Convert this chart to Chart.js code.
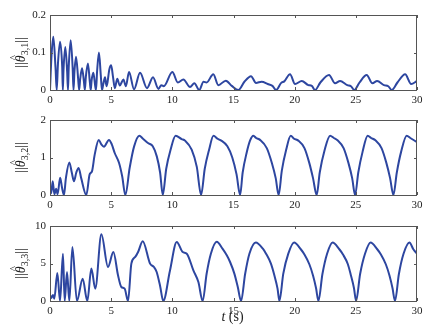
<!DOCTYPE html>
<html>
<head>
<meta charset="utf-8">
<script src="https://cdn.jsdelivr.net/npm/chart.js@4"></script>
<style>
  body { margin: 0; background: #fff; width: 441px; height: 334px; position: relative; overflow: hidden; }
  canvas { position: absolute; left: 0; }
</style>
</head>
<body>
<canvas id="c1" style="top:0" width="441" height="105"></canvas>
<canvas id="c2" style="top:105px" width="441" height="105"></canvas>
<canvas id="c3" style="top:210px" width="441" height="124"></canvas>
<script>
// ||theta_{3,1}||
const t1 = [0, 0.12, 0.27, 0.45, 0.55, 0.65, 0.82, 1.0, 1.05, 1.1, 1.25, 1.4, 1.47, 1.53, 1.69, 1.85, 1.92, 2.0, 2.13, 2.3,
  2.38, 2.47, 2.62, 2.78, 2.85, 2.93, 3.1, 3.26, 3.33, 3.4, 3.54, 3.7, 3.76, 3.85, 4.0, 4.15, 4.25, 4.35, 4.5, 4.62,
  4.7, 4.85, 5.0, 5.15, 5.3, 5.5, 5.7, 6.0, 6.2, 6.46, 6.87, 7.36, 7.93, 8.42, 8.86, 9.1, 9.3, 10.0, 10.45, 10.9,
  11.45, 11.8, 12.2, 12.55, 12.8, 13.35, 13.76, 14.37, 14.86, 15.4, 15.89, 16.43, 16.84, 17.3, 17.8, 18.18, 18.48, 18.9, 19.15, 19.62,
  20.03, 20.58, 21.12, 21.4, 21.67, 22.1, 22.81, 23.3, 23.71, 24.3, 24.6, 24.88, 25.3, 25.89, 26.35, 26.74, 27.3, 27.65, 27.94, 28.4,
  29.03, 29.52, 30]
const v1 = [0, 0.09, 0.142, 0.06, 0, 0.07, 0.129, 0.06, 0, 0.05, 0.115, 0.05, 0, 0.06, 0.133, 0.06, 0, 0.05, 0.089, 0.03,
  0, 0.03, 0.058, 0.02, 0, 0.035, 0.071, 0.02, 0, 0.025, 0.046, 0.01, 0, 0.05, 0.1, 0.04, 0, 0.015, 0.034, 0.01,
  0.02, 0.055, 0.066, 0.035, 0.005, 0.03, 0.012, 0.028, 0.01, 0.048, 0.002, 0.046, 0.005, 0.034, 0.003, 0.013, 0.01, 0.048, 0.02, 0.028,
  0.008, 0.018, 0, 0.022, 0.02, 0.042, 0.013, 0.025, 0.011, 0, 0.022, 0.037, 0.019, 0.022, 0.016, 0.011, 0, 0.019, 0.023, 0.042,
  0.016, 0.024, 0.013, 0.011, 0, 0.02, 0.04, 0.018, 0.024, 0.013, 0.01, 0, 0.02, 0.04, 0.018, 0.024, 0.013, 0.01, 0, 0.02,
  0.042, 0.016, 0.024]

// ||theta_{3,2}||
const t2 = [0, 0.1, 0.22, 0.36, 0.5, 0.62, 0.83, 0.98, 1.14, 1.3, 1.58, 1.78, 1.96, 2.15, 2.34, 2.55, 2.97, 3.24, 3.43, 3.65,
  3.98, 4.2, 4.41, 4.82, 5.05, 5.29, 5.64, 5.9, 6.16, 6.51, 6.87, 7.3, 7.6, 8.04, 8.4, 8.73, 9.0, 9.22, 9.5, 9.85,
  10.27, 10.76, 11.04, 11.58, 12.0, 12.35, 12.65, 13.0, 13.36, 13.7, 14.0, 14.5, 14.9, 15.25, 15.54, 15.75, 16.07, 16.35, 16.63, 16.85,
  17.17, 17.72, 18.13, 18.45, 18.69, 18.95, 19.3, 19.68, 19.95, 20.3, 20.8, 21.2, 21.5, 21.8, 22.05, 22.45, 22.9, 23.2, 23.5, 24.0,
  24.4, 24.7, 24.94, 25.2, 25.55, 25.97, 26.25, 26.6, 27.1, 27.5, 27.8, 28.07, 28.35, 28.7, 29.16, 29.45, 29.75, 30]
const v2 = [0.2, 0.05, 0.37, 0.02, 0.17, 0.02, 0.46, 0.2, 0, 0.45, 0.87, 0.6, 0.37, 0.6, 0.72, 0.45, 0, 0.55, 0.63, 1.07,
  1.47, 1.35, 1.29, 1.47, 1.35, 1.12, 0.86, 0.5, 0, 0.72, 1.29, 1.58, 1.5, 1.38, 1.3, 1.03, 0.6, 0, 0.7, 1.2,
  1.58, 1.49, 1.45, 1.21, 0.75, 0, 0.7, 1.2, 1.58, 1.5, 1.45, 1.3, 1.0, 0.55, 0, 0.6, 1.12, 1.45, 1.58, 1.52,
  1.47, 1.25, 0.86, 0.45, 0, 0.65, 1.2, 1.58, 1.5, 1.45, 1.25, 0.85, 0.45, 0, 0.6, 1.2, 1.58, 1.52, 1.46, 1.25,
  0.85, 0.45, 0, 0.6, 1.15, 1.58, 1.52, 1.46, 1.25, 0.85, 0.45, 0, 0.6, 1.15, 1.58, 1.52, 1.46, 1.41]

// ||theta_{3,3}||
const t3 = [0, 0.1, 0.25, 0.35, 0.6, 0.82, 1.06, 1.2, 1.39, 1.58, 1.83, 2.2, 2.67, 3.05, 3.38, 3.7, 4.2, 4.74, 5.18, 5.56,
  5.83, 6.1, 6.38, 6.65, 6.97, 7.2, 7.58, 8.18, 8.5, 8.72, 9.0, 9.26, 9.8, 10.36, 10.85, 11.18, 11.72, 12.13, 12.48, 12.8,
  13.15, 13.63, 14.1, 14.45, 14.72, 15.07, 15.35, 15.62, 15.95, 16.3, 16.82, 17.4, 17.66, 18.06, 18.34, 18.6, 18.75, 19.07, 19.48, 19.95,
  20.5, 20.8, 21.2, 21.5, 21.75, 21.94, 22.27, 22.65, 23.1, 23.65, 23.95, 24.35, 24.6, 24.85, 25.02, 25.35, 25.75, 26.2, 26.75, 27.05,
  27.45, 27.75, 28.0, 28.2, 28.52, 28.9, 29.38, 29.7, 30]
const v3 = [0.8, 0.4, 0.8, 0.3, 3.75, 0, 6.3, 0, 3.87, 0, 7.2, 0, 2.98, 0, 4.32, 1.65, 8.89, 4.53, 6.53, 3.43,
  1.87, 1.65, 0, 4.98, 5.87, 6.53, 7.96, 4.98, 4.53, 3.87, 2.0, 0, 4.0, 7.87, 6.53, 6.31, 4.09, 2.53, 0, 3.6,
  6.3, 7.9, 6.98, 6.09, 5.2, 3.65, 1.87, 0, 3.6, 6.3, 7.8, 6.98, 6.31, 4.98, 3.43, 1.65, 0, 3.65, 6.31, 7.8,
  6.9, 6.2, 4.9, 3.4, 1.7, 0, 3.6, 6.3, 7.8, 6.9, 6.2, 4.9, 3.4, 1.7, 0, 3.6, 6.3, 7.8, 6.9, 6.2,
  4.9, 3.4, 1.7, 0, 3.6, 6.3, 7.8, 6.9, 6.31]

const xTicks = [0, 5, 10, 15, 20, 25, 30]
const serif = '"Liberation Serif", "Times New Roman", serif'
const lineColor = "#2d46a0"

function drawYTitle(ctx, cx, cy, sub) {
  const parts = [
    ["||", "14px " + serif, 0],
    ["\u03b8", "italic 14px " + serif, 0],
    [sub, "10px " + serif, 3],
    ["||", "14px " + serif, 0],
  ]
  ctx.save()
  ctx.translate(cx, cy)
  ctx.rotate(-Math.PI / 2)
  ctx.fillStyle = "#222"
  ctx.textBaseline = "alphabetic"
  let w = 0
  parts.forEach((p) => {
    ctx.font = p[1]
    w += ctx.measureText(p[0]).width
  })
  let x = -w / 2
  parts.forEach((p, i) => {
    ctx.font = p[1]
    ctx.fillText(p[0], x, 5 + p[2])
    const pw = ctx.measureText(p[0]).width
    if (i === 1) {
      // hat over theta
      ctx.font = "11px " + serif
      ctx.textAlign = "center"
      ctx.fillText("^", x + pw / 2 + 1, -3)
      ctx.textAlign = "left"
    }
    x += pw
  })
  ctx.restore()
}

const framePlugin = {
  id: "frame",
  afterDraw(chart) {
    const { ctx, chartArea: a, scales } = chart
    const o = chart.options.plugins.frame
    ctx.save()
    ctx.strokeStyle = "#555"
    ctx.lineWidth = 1
    ctx.strokeRect(a.left + 0.5, a.top + 0.5, a.right - a.left - 1, a.bottom - a.top)
    ctx.beginPath()
    xTicks.forEach((v) => {
      const px = Math.round(scales.x.getPixelForValue(v)) + 0.5
      ctx.moveTo(px, a.bottom)
      ctx.lineTo(px, a.bottom - 3)
      ctx.moveTo(px, a.top)
      ctx.lineTo(px, a.top + 3)
    })
    const py = Math.round(scales.y.getPixelForValue(o.yMid)) + 0.5
    ctx.moveTo(a.left, py)
    ctx.lineTo(a.left + 3, py)
    ctx.moveTo(a.right, py)
    ctx.lineTo(a.right - 3, py)
    ctx.stroke()
    ctx.restore()
    drawYTitle(ctx, 20, (a.top + a.bottom) / 2, o.sub)
    if (o.xTitle) {
      ctx.save()
      ctx.fillStyle = "#222"
      ctx.textBaseline = "alphabetic"
      ctx.font = "italic 14px " + serif
      const w1 = ctx.measureText("t").width
      ctx.font = "14px " + serif
      const w2 = ctx.measureText(" (s)").width
      const x0 = 232.5 - (w1 + w2) / 2
      ctx.font = "italic 14px " + serif
      ctx.fillText("t", x0, 111)
      ctx.font = "14px " + serif
      ctx.fillText(" (s)", x0 + w1, 111)
      ctx.restore()
    }
  },
}

function makeChart(id, t, v, yMax, yStep, sub, topPad, xTitle) {
  const canvas = document.getElementById(id)
  const H = canvas.height
  return new Chart(canvas, {
    type: "line",
    data: {
      datasets: [
        {
          data: t.map((x, i) => ({ x: x, y: v[i] })),
          borderColor: lineColor,
          borderWidth: 2,
          pointRadius: 0,
          cubicInterpolationMode: "monotone",
          fill: false,
        },
      ],
    },
    options: {
      responsive: false,
      animation: false,
      layout: { padding: { left: 0, right: 24, top: topPad, bottom: 0 } },
      plugins: {
        legend: { display: false },
        tooltip: { enabled: false },
        frame: { yMid: yMax / 2, sub: sub, xTitle: xTitle },
      },
      scales: {
        x: {
          type: "linear",
          min: 0,
          max: 30,
          grid: { display: false, drawTicks: false },
          border: { display: false },
          ticks: { stepSize: 5, padding: 4, maxRotation: 0, autoSkip: false, color: "#222", font: { family: serif, size: 11 } },
          afterFit(s) { s.height = H - topPad - 75 },
        },
        y: {
          min: 0,
          max: yMax,
          grid: { display: false, drawTicks: false },
          border: { display: false },
          ticks: { stepSize: yStep, padding: 4, color: "#222", font: { family: serif, size: 11 } },
          afterFit(s) { s.width = 50 },
        },
      },
    },
    plugins: [framePlugin],
  })
}

makeChart("c1", t1, v1, 0.2, 0.1, "3,1", 15, false)
makeChart("c2", t2, v2, 2, 1, "3,2", 15, false)
makeChart("c3", t3, v3, 10, 5, "3,3", 16, true)
</script>
</body>
</html>
